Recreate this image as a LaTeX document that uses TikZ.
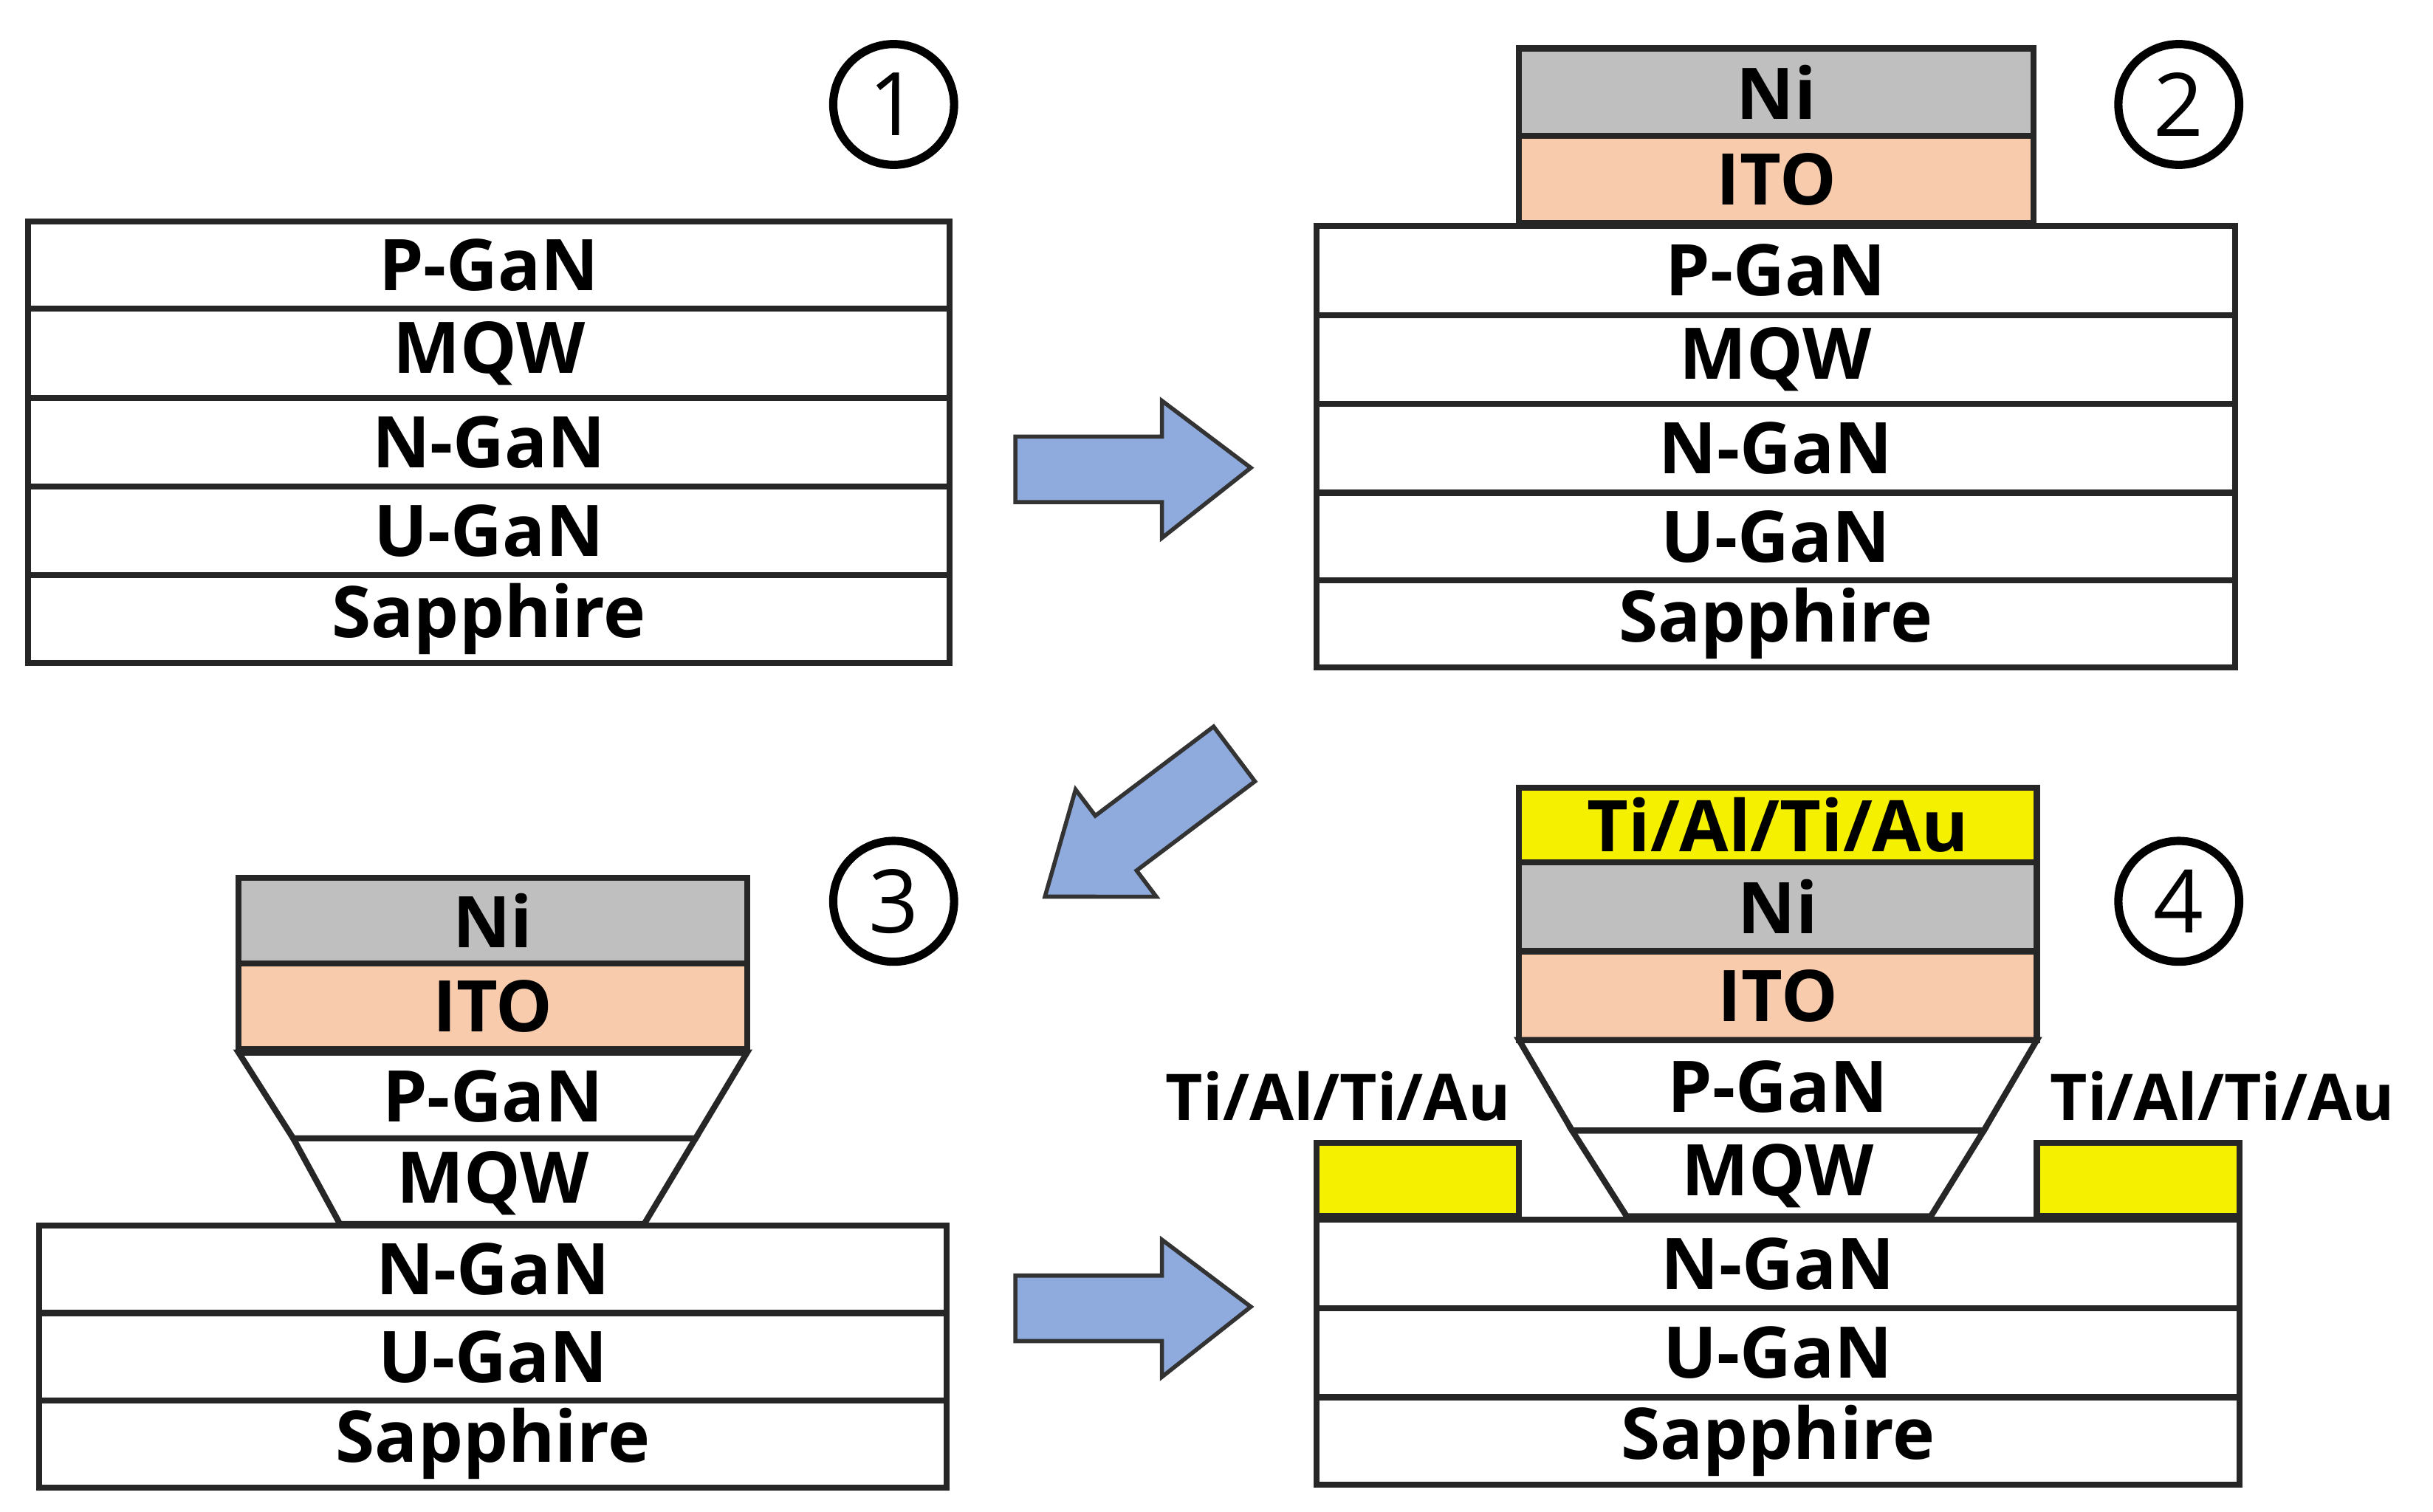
\documentclass[tikz,border=0pt]{standalone}
\usepackage{fontspec}
\setmainfont{Open Sans}
\begin{document}
\begin{tikzpicture}[x=0.02cm,y=-0.02cm,
 lay/.style={draw=black!85,line width=2.2pt},
 lab/.style={font=\fontsize{26}{30}\selectfont\bfseries},
 num/.style={draw=black,line width=3pt,circle,minimum size=1.55cm,inner sep=0pt,font=\fontsize{32}{32}\selectfont},
 arr/.style={draw=black!80,line width=1.5pt,fill=arrblue}]
\definecolor{arrblue}{HTML}{8FAADC}
\definecolor{nigray}{HTML}{BFBFBF}
\definecolor{ito}{HTML}{F8CBAD}
\definecolor{yel}{HTML}{F5F000}
\useasboundingbox (0,0) rectangle (1560,969.6);
% panel 1
\foreach \a/\b/\t in {142/198/P-GaN,198/255/MQW,255/312/N-GaN,312/369/U-GaN,369/425/Sapphire}
 \draw[lay] (18,\a) rectangle (609,\b) node[midway,lab]{\t};
\node[num] (c1) at (573,67) {1};
% panel 2
\draw[lay,fill=nigray] (974,31) rectangle (1304,87) node[midway,lab]{Ni};
\draw[lay,fill=ito] (974,87) rectangle (1304,143) node[midway,lab]{ITO};
\foreach \a/\b/\t in {145/202/P-GaN,202/259/MQW,259/316/N-GaN,316/372/U-GaN,372/428/Sapphire}
 \draw[lay] (844,\a) rectangle (1433,\b) node[midway,lab]{\t};
\node[num] (c2) at (1397,67) {2};
% arrows
\draw[arr] (651,280) -- (745,280) -- (745,257) -- (802,300) -- (745,345) -- (745,322) -- (651,322) -- cycle;
\draw[arr] (651,818) -- (745,818) -- (745,795) -- (802,838) -- (745,883) -- (745,860) -- (651,860) -- cycle;
\begin{scope}[shift={(670,575)},rotate=37]
\draw[arr] (0,0) -- (57,-43) -- (57,-22) -- (152,-22) -- (152,22) -- (57,22) -- (57,43) -- cycle;
\end{scope}
% panel 3
\draw[lay,fill=nigray] (153,563) rectangle (479,618) node[midway,lab]{Ni};
\draw[lay,fill=ito] (153,618) rectangle (479,673) node[midway,lab]{ITO};
\draw[lay] (153,675) -- (479,675) -- (446,730) -- (188,730) -- cycle;
\node[lab] at (316,703) {P-GaN};
\draw[lay] (188,730) -- (446,730) -- (413,785) -- (218,785) -- cycle;
\node[lab] at (316,759) {MQW};
\foreach \a/\b/\t in {786/842/N-GaN,842/898/U-GaN,898/954/Sapphire}
 \draw[lay] (25,\a) rectangle (607,\b) node[midway,lab]{\t};
\node[num] (c3) at (573,578) {3};
% panel 4
\draw[lay,fill=yel] (974,505) rectangle (1306,553) node[midway,lab]{Ti/Al/Ti/Au};
\draw[lay,fill=nigray] (974,553) rectangle (1306,610) node[midway,lab]{Ni};
\draw[lay,fill=ito] (974,610) rectangle (1306,667) node[midway,lab]{ITO};
\draw[lay] (974,667) -- (1306,667) -- (1272,725) -- (1008,725) -- cycle;
\node[lab] at (1140,697) {P-GaN};
\draw[lay] (1008,725) -- (1272,725) -- (1238,780) -- (1043,780) -- cycle;
\node[lab] at (1140,754) {MQW};
\draw[lay,fill=yel] (844,733) rectangle (974,780);
\draw[lay,fill=yel] (1306,733) rectangle (1436,780);
\foreach \a/\b/\t in {782/839/N-GaN,839/896/U-GaN,896/952/Sapphire}
 \draw[lay] (844,\a) rectangle (1436,\b) node[midway,lab]{\t};
\node[font=\fontsize{23.5}{26}\selectfont\bfseries] (l1) at (858,703) {Ti/Al/Ti/Au};
\node[font=\fontsize{23.5}{26}\selectfont\bfseries] (l2) at (1425,703) {Ti/Al/Ti/Au};
\node[num] (c4) at (1397,578) {4};
\end{tikzpicture}
\end{document}
